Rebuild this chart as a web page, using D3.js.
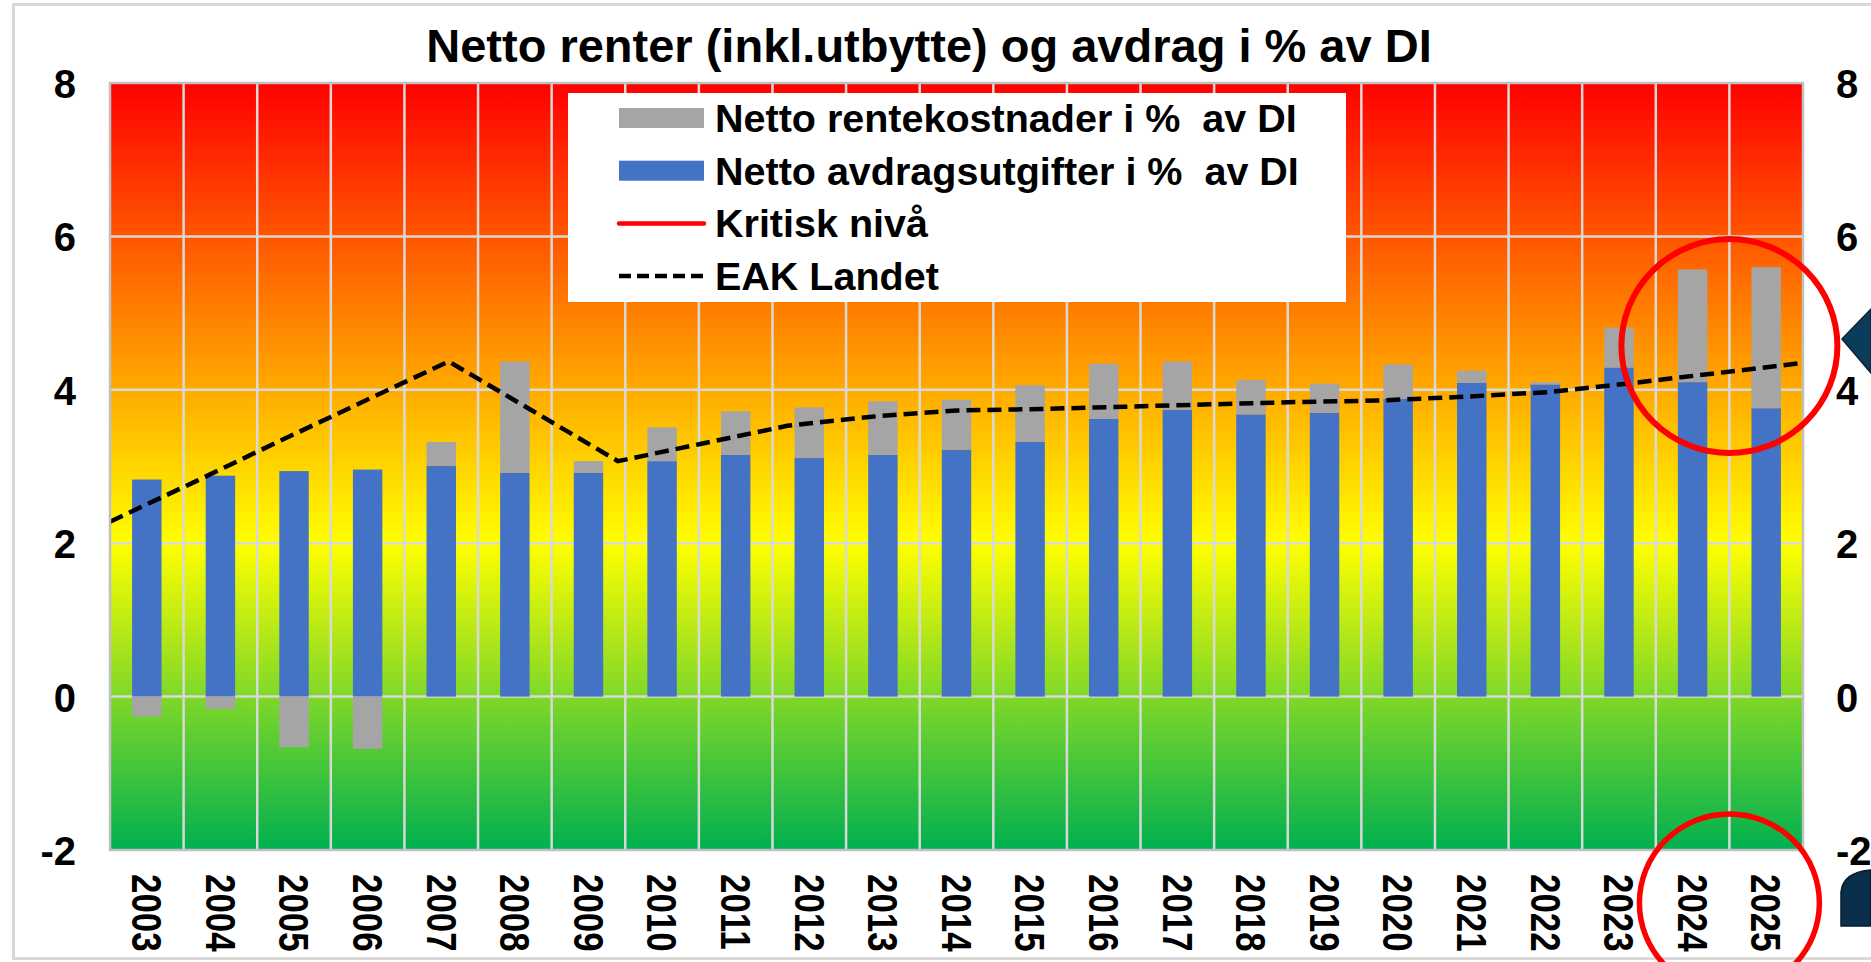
<!DOCTYPE html>
<html>
<head>
<meta charset="utf-8">
<script src="https://cdn.jsdelivr.net/npm/d3@7"></script>
<style>
  body { margin: 0; background: #fff; overflow: hidden; }
  svg { display: block; }
  text { font-family: "Liberation Sans", Arial, sans-serif; font-weight: bold; fill: #000; }
</style>
</head>
<body>
<svg id="chart"></svg>
<script>
// values
const years = ['2003', '2004', '2005', '2006', '2007', '2008', '2009', '2010', '2011', '2012', '2013', '2014',
  '2015', '2016', '2017', '2018', '2019', '2020', '2021', '2022', '2023', '2024', '2025'];
const avdrag = [2.83, 2.88, 2.94, 2.96, 3.01, 2.92, 2.92, 3.07, 3.15, 3.11, 3.15, 3.22,
  3.32, 3.62, 3.74, 3.68, 3.70, 3.88, 4.09, 4.07, 4.29, 4.10, 3.76];
const renter = [-0.26, -0.16, -0.66, -0.68, 0.31, 1.45, 0.15, 0.44, 0.57, 0.66, 0.70, 0.65,
  0.74, 0.72, 0.63, 0.45, 0.38, 0.45, 0.16, 0.03, 0.52, 1.47, 1.84];
// EAK line sits on its own axis, 21 points edge to edge
const eakLandet = [2.28, 2.80, 3.33, 3.85, 4.37, 3.72, 3.07, 3.30, 3.53, 3.65, 3.73,
  3.75, 3.78, 3.81, 3.84, 3.86, 3.91, 3.97, 4.09, 4.22, 4.35];
const yTicks = [-2, 0, 2, 4, 6, 8];
const legendItems = [
  { label: 'Netto rentekostnader i %  av DI', type: 'rect', color: '#a5a5a5' },
  { label: 'Netto avdragsutgifter i %  av DI', type: 'rect', color: '#4472c4' },
  { label: 'Kritisk nivå', type: 'line', color: '#ff0000' },
  { label: 'EAK Landet', type: 'dash', color: '#000' },
];
const title = 'Netto renter (inkl.utbytte) og avdrag i % av DI';

const width = 1871;
const height = 962;
const margin = { top: 83, right: 68, bottom: 112, left: 110 };
const innerWidth = width - margin.left - margin.right;
const innerHeight = height - margin.top - margin.bottom;

const svg = d3.select('#chart')
  .attr('width', width)
  .attr('height', height);

// outer frame of the chart object (runs past the right edge)
svg.append('path')
  .attr('d', `M${width},4.5 H13.5 V958.5 H${width}`)
  .attr('fill', 'none')
  .attr('stroke', '#d9d9d9')
  .attr('stroke-width', 3);

const grad = svg.append('defs')
  .append('linearGradient')
  .attr('id', 'zone')
  .attr('x1', 0).attr('y1', 0)
  .attr('x2', 0).attr('y2', 1);
[[0, '#ff0000'], [0.3, '#ff8000'], [0.6, '#ffff00'], [1, '#00b050']].forEach(([o, c]) => {
  grad.append('stop').attr('offset', o).attr('stop-color', c);
});

const x = d3.scaleBand().domain(years).range([0, innerWidth]).padding(0);
const y = d3.scaleLinear().domain([-2, 8]).range([innerHeight, 0]);
const xLine = d3.scalePoint().domain(d3.range(eakLandet.length)).range([0, innerWidth]).padding(0);
const barW = x.bandwidth() / 2.5;

const g = svg.append('g')
  .attr('transform', `translate(${margin.left},${margin.top})`);

g.append('rect')
  .attr('width', innerWidth)
  .attr('height', innerHeight)
  .attr('fill', 'url(#zone)');

// grid
g.selectAll('.hgrid')
  .data(yTicks.slice(1, -1))
  .enter()
  .append('line')
  .attr('x1', 0)
  .attr('x2', innerWidth)
  .attr('y1', d => y(d))
  .attr('y2', d => y(d))
  .attr('stroke', '#d9d9d9')
  .attr('stroke-width', 2.5);

g.selectAll('.vgrid')
  .data(years.slice(1))
  .enter()
  .append('line')
  .attr('x1', d => x(d))
  .attr('x2', d => x(d))
  .attr('y1', 0)
  .attr('y2', innerHeight)
  .attr('stroke', '#d9d9d9')
  .attr('stroke-width', 2.5);

// blue bars from zero
g.selectAll('.avdrag')
  .data(years)
  .enter()
  .append('rect')
  .attr('x', d => x(d) + (x.bandwidth() - barW) / 2)
  .attr('width', barW)
  .attr('y', (d, i) => y(avdrag[i]))
  .attr('height', (d, i) => y(0) - y(avdrag[i]))
  .attr('fill', '#4472c4');

// grey stacked on top, or below zero when negative
g.selectAll('.renter')
  .data(years)
  .enter()
  .append('rect')
  .attr('x', d => x(d) + (x.bandwidth() - barW) / 2)
  .attr('width', barW)
  .attr('y', (d, i) => (renter[i] >= 0 ? y(avdrag[i] + renter[i]) : y(0)))
  .attr('height', (d, i) => Math.abs(y(0) - y(renter[i])))
  .attr('fill', '#a5a5a5');

const line = d3.line()
  .x((d, i) => xLine(i))
  .y(d => y(d));

g.append('path')
  .datum(eakLandet)
  .attr('d', line)
  .attr('fill', 'none')
  .attr('stroke', '#000')
  .attr('stroke-width', 4.5)
  .attr('stroke-dasharray', '14,7');

g.append('rect')
  .attr('width', innerWidth)
  .attr('height', innerHeight)
  .attr('fill', 'none')
  .attr('stroke', '#c0c0c0')
  .attr('stroke-width', 2.5);

// axes, plain hyphen for the minus like the original
const fmt = d => String(d);
const yLeft = g.append('g')
  .call(d3.axisLeft(y).tickValues(yTicks).tickSize(0).tickPadding(34).tickFormat(fmt));
const yRight = g.append('g')
  .attr('transform', `translate(${innerWidth},0)`)
  .call(d3.axisRight(y).tickValues(yTicks).tickSize(0).tickPadding(33).tickFormat(fmt));
[yLeft, yRight].forEach(ax => {
  ax.select('.domain').remove();
  ax.selectAll('text')
    .attr('font-size', 40)
    .attr('dy', '0.36em')
    .attr('font-family', null);
});

// year labels run top to bottom, a bit narrow
const xAxis = g.append('g')
  .attr('transform', `translate(0,${innerHeight})`)
  .call(d3.axisBottom(x).tickSize(0));
xAxis.select('.domain').remove();
xAxis.selectAll('text')
  .attr('font-size', 42)
  .attr('font-family', null)
  .attr('x', 0)
  .attr('y', 0)
  .attr('dy', '0.35em')
  .attr('transform', 'translate(0,24) rotate(90) scale(0.83,1)')
  .attr('text-anchor', 'start');

// legend box
const legend = svg.append('g')
  .attr('transform', 'translate(568,93)');
legend.append('rect')
  .attr('width', 778)
  .attr('height', 209)
  .attr('fill', '#fff');
const rows = legend.selectAll('.row')
  .data(legendItems)
  .enter()
  .append('g')
  .attr('transform', (d, i) => `translate(0,${25 + i * 52.7})`);
rows.filter(d => d.type === 'rect')
  .append('rect')
  .attr('x', 51)
  .attr('y', -10)
  .attr('width', 85)
  .attr('height', 20)
  .attr('fill', d => d.color);
rows.filter(d => d.type !== 'rect')
  .append('line')
  .attr('x1', 51)
  .attr('x2', 136)
  .attr('stroke', d => d.color)
  .attr('stroke-width', 4.5)
  .attr('stroke-linecap', d => (d.type === 'line' ? 'round' : 'butt'))
  .attr('stroke-dasharray', d => (d.type === 'dash' ? '12,6' : null));
rows.append('text')
  .attr('x', 147)
  .attr('dy', '0.35em')
  .attr('font-size', 39.5)
  .style('white-space', 'pre')
  .text(d => d.label);

svg.append('text')
  .attr('x', 929)
  .attr('y', 62)
  .attr('text-anchor', 'middle')
  .attr('font-size', 47)
  .text(title);

// red highlight circles around the last two years
const mark = margin.left + x('2025');
svg.append('ellipse')
  .attr('cx', mark)
  .attr('cy', margin.top + y(4.57))
  .attr('rx', 108)
  .attr('ry', 107)
  .attr('fill', 'none')
  .attr('stroke', '#ff0000')
  .attr('stroke-width', 6);
svg.append('ellipse')
  .attr('cx', mark)
  .attr('cy', 903)
  .attr('rx', 90)
  .attr('ry', 89)
  .attr('fill', 'none')
  .attr('stroke', '#ff0000')
  .attr('stroke-width', 5.5);

// dark arrow shapes cut off at the right edge
svg.append('path')
  .attr('d', 'M1871,309 L1842,339 L1871,373 Z')
  .attr('fill', '#0c3c5c')
  .attr('stroke', '#082436')
  .attr('stroke-width', 1.5);
svg.append('path')
  .attr('d', 'M1871,870 Q1843,872 1841,892 L1841,926 L1871,926 Z')
  .attr('fill', '#0a2f4a')
  .attr('stroke', '#061c2c')
  .attr('stroke-width', 1.5);
</script>
</body>
</html>
